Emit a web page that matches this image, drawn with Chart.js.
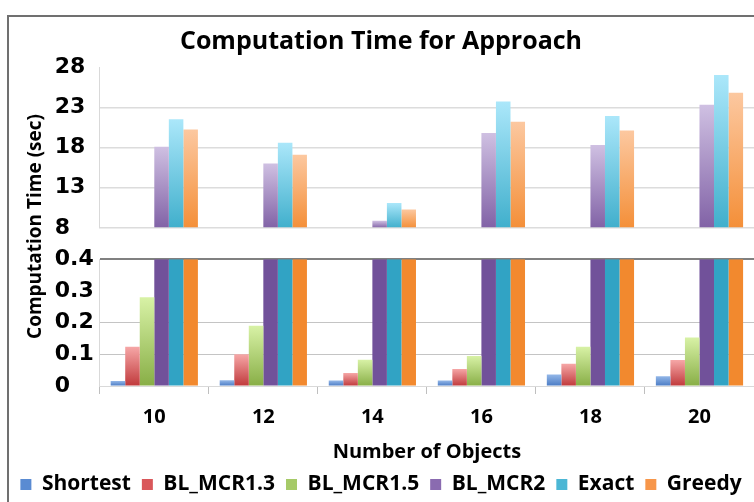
<!DOCTYPE html>
<html><head><meta charset="utf-8">
<script src="https://cdn.jsdelivr.net/npm/chart.js@4.4.1/dist/chart.umd.min.js"></script>
<style>
html,body{margin:0;padding:0;background:#fff;}
#wrap{position:relative;width:754px;height:502px;overflow:hidden;background:#fff;}
#frame{position:absolute;left:7px;top:15px;width:800px;height:600px;border-left:2px solid #707070;border-top:2px solid #707070;pointer-events:none;}
canvas{position:absolute;left:0;top:0;}
</style></head>
<body><div id="wrap"><canvas id="c" width="754" height="502"></canvas><div id="frame"></div></div>
<script>
// ---- data ----
const categories = ['10', '12', '14', '16', '18', '20'];
const seriesNames = ['Shortest', 'BL_MCR1.3', 'BL_MCR1.5', 'BL_MCR2', 'Exact', 'Greedy'];
const shortest = [0.016, 0.018, 0.017, 0.017, 0.036, 0.031];
const blMcr13  = [0.124, 0.100, 0.041, 0.054, 0.070, 0.082];
const blMcr15  = [0.280, 0.190, 0.083, 0.095, 0.124, 0.153];
const blMcr2   = [18.1, 16.0, 8.9, 19.8, 18.3, 23.3];
const exact    = [21.5, 18.6, 11.1, 23.7, 21.9, 27.0];
const greedy   = [20.25, 17.1, 10.3, 21.2, 20.1, 24.8];
const upperTicks = [8, 13, 18, 23, 28];
const lowerTicks = [0, 0.1, 0.2, 0.3, 0.4];

// ---- styles ----
const FONT = '"Open Sans"';
const legendColors = ['#5a8bd2', '#d9575a', '#a6ca68', '#8a6bb0', '#4cb7d5', '#f7964a'];
const lowTop = ['#93b7e8', '#f6a7a7', '#d8f2a6', '#71519a', '#31a3c4', '#f2892e'];
const lowBot = ['#4a7bc4', '#c0393b', '#88ae46', '#71519a', '#31a3c4', '#f2892e'];
const upTop  = ['#93b7e8', '#f6a7a7', '#d8f2a6', '#cfc0e2', '#abe7fa', '#fcc8a0'];
const upBot  = ['#4a7bc4', '#c0393b', '#88ae46', '#8162a6', '#40afcc', '#f48f38'];

const values = [shortest, blMcr13, blMcr15, blMcr2, exact, greedy];
const lowerMax = lowerTicks[lowerTicks.length - 1];
const upperMin = upperTicks[0];

function grad(topC, botC) {
  return function (ctx) {
    const chart = ctx.chart;
    if (ctx.type !== 'data' || !chart.chartArea) return botC;
    const ds = ctx.dataset;
    const sc = chart.scales[ds.yAxisID];
    const v = ctx.raw;
    if (v === null || v === undefined || !sc) return 'rgba(0,0,0,0)';
    const y0 = sc.getPixelForValue(v);
    const y1 = sc.getPixelForValue(ds.base !== undefined ? ds.base : 0);
    if (!isFinite(y0) || !isFinite(y1) || y0 === y1) return botC;
    const g = chart.ctx.createLinearGradient(0, y0, 0, y1);
    g.addColorStop(0, topC);
    g.addColorStop(1, botC);
    return g;
  };
}

const datasets = [];
seriesNames.forEach((name, i) => {
  datasets.push({
    label: name,
    data: values[i].map(v => Math.min(v, lowerMax)),
    yAxisID: 'yBot',
    stack: name,
    base: 0,
    backgroundColor: lowTop[i] === lowBot[i] ? lowBot[i] : grad(lowTop[i], lowBot[i]),
    borderWidth: 0
  });
});
seriesNames.forEach((name, i) => {
  datasets.push({
    label: name + ' (upper)',
    data: values[i].map(v => (v >= upperMin ? v : null)),
    yAxisID: 'yTop',
    stack: name,
    base: upperMin,
    backgroundColor: grad(upTop[i], upBot[i]),
    borderWidth: 0
  });
});

const tickFont = { family: '"DejaVu Sans"', weight: 'bold', size: 22 };

new Chart(document.getElementById('c'), {
  type: 'bar',
  data: { labels: categories, datasets },
  options: {
    responsive: false,
    animation: false,
    categoryPercentage: 0.8,
    barPercentage: 1.0,
    layout: { padding: { left: 8, right: 0, top: 0, bottom: -3 } },
    plugins: {
      tooltip: { enabled: false },
      title: {
        display: true,
        text: 'Computation Time for Approach',
        color: '#000',
        font: { family: FONT, weight: 'bold', size: 25 },
        padding: { top: 27, bottom: 10 }
      },
      legend: {
        position: 'bottom',
        onClick: null,
        labels: {
          color: '#000',
          font: { family: FONT, weight: 'bold', size: 21 },
          boxWidth: 11,
          boxHeight: 11,
          padding: 11,
          generateLabels: () => seriesNames.map((n, i) => ({
            text: n, fillStyle: legendColors[i], strokeStyle: legendColors[i],
            lineWidth: 0, hidden: false, datasetIndex: i, fontColor: '#000'
          }))
        }
      }
    },
    scales: {
      x: {
        type: 'category',
        position: 'bottom',
        offset: true,
        grid: { display: true, drawOnChartArea: false, drawTicks: true, tickLength: 8, color: '#bfbfbf', offset: true },
        border: { display: true, color: '#d9d9d9', width: 1 },
        ticks: { color: '#000', font: { family: FONT, weight: 'bold', size: 20 }, padding: 11 },
        title: {
          display: true, text: 'Number of Objects', color: '#000',
          font: { family: FONT, weight: 'bold', size: 20 }, padding: { top: 0, bottom: -1 }
        }
      },
      yTitle: {
        type: 'linear', position: 'left', weight: 10,
        ticks: { display: false }, grid: { display: false }, border: { display: false },
        title: {
          display: true, text: 'Computation Time (sec)', color: '#000',
          font: { family: FONT, weight: 'bold', size: 19 }, padding: { top: 16.6, bottom: -0.6 }
        }
      },
      yTop: {
        type: 'linear', position: 'left', stack: 'brk', stackWeight: 160, weight: 3,
        min: upperTicks[0], max: upperTicks[upperTicks.length - 1],
        afterBuildTicks: (s) => { s.ticks = upperTicks.map(v => ({ value: v })); },
        ticks: { crossAlign: 'far', padding: 3, autoSkip: false, color: '#000', font: tickFont },
        grid: {
          drawTicks: false,
          color: (c) => (c.tick && c.tick.value === upperTicks[upperTicks.length - 1]) ? 'rgba(0,0,0,0)' : '#dcdcdc',
          lineWidth: 1.5
        },
        border: { display: true, color: '#d9d9d9', width: 1 }
      },
      yGap: {
        type: 'linear', position: 'left', stack: 'brk', stackWeight: 31, weight: 2,
        ticks: { display: false }, grid: { display: false }, border: { display: false }
      },
      yBot: {
        type: 'linear', position: 'left', stack: 'brk', stackWeight: 126, weight: 1,
        min: lowerTicks[0], max: lowerTicks[lowerTicks.length - 1],
        afterBuildTicks: (s) => { s.ticks = lowerTicks.map(v => ({ value: v })); },
        ticks: { crossAlign: 'far', padding: 3, autoSkip: false, color: '#000', font: tickFont },
        grid: {
          drawTicks: false,
          color: (c) => {
            const v = c.tick ? c.tick.value : null;
            if (v === lowerTicks[4]) return '#808080';
            if (v === lowerTicks[3]) return 'rgba(0,0,0,0)';
            if (v === lowerTicks[0]) return '#d9d9d9';
            return '#c4c4c4';
          },
          lineWidth: (c) => (c.tick && c.tick.value === lowerTicks[4]) ? 2 : 1
        },
        border: { display: true, color: '#d9d9d9', width: 1 }
      }
    }
  }
});
</script>
</body></html>
